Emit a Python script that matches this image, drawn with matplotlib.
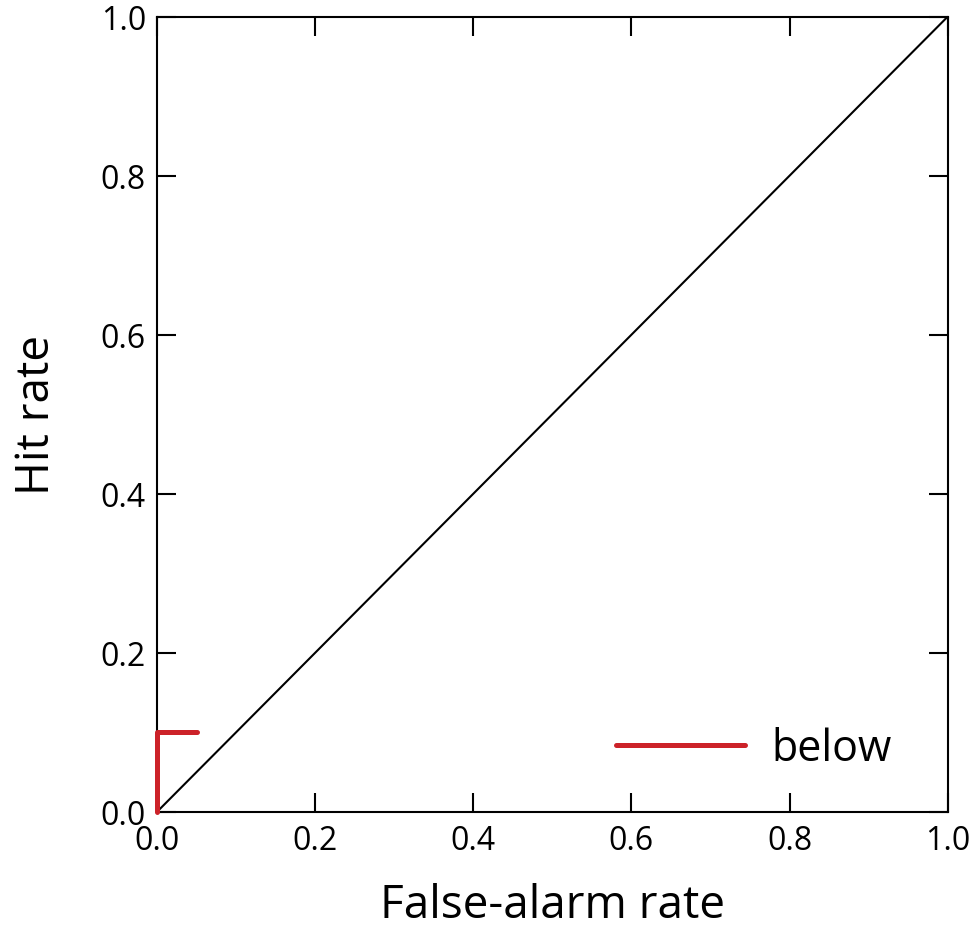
import matplotlib.pyplot as plt

# ROC points for the "below" criterion, plus the chance diagonal
fa_below = [0.0, 0.0, 0.05]
hit_below = [0.0, 0.1, 0.1]
chance = [0.0, 1.0]
ticks = [0.0, 0.2, 0.4, 0.6, 0.8, 1.0]

plt.rcParams['font.family'] = ['Open Sans', 'DejaVu Sans']

fig = plt.figure(figsize=(9.75, 9.29), dpi=100)
ax = fig.add_axes([0.161, 0.125, 0.811, 0.856])

ax.plot(chance, chance, color='black', lw=1.5)
ax.plot(fa_below, hit_below, color='#cc2229', lw=3.6, label='below',
        solid_capstyle='round', clip_on=False, zorder=5)

ax.set_xlim(0, 1)
ax.set_ylim(0, 1)
ax.set_xticks(ticks)
ax.set_yticks(ticks)
ax.set_xticklabels(['%.1f' % t for t in ticks])
ax.set_yticklabels(['%.1f' % t for t in ticks])
ax.tick_params(direction='in', length=14, width=1.5, labelsize=23,
               top=True, right=True)
ax.tick_params(axis='y', pad=8)
ax.tick_params(axis='x', pad=9)
for s in ax.spines.values():
    s.set_linewidth(1.5)

ax.set_xlabel('False-alarm rate', fontsize=33, labelpad=18)
ax.set_ylabel('Hit rate', fontsize=33, labelpad=29)

ax.legend(loc='lower right', frameon=False, fontsize=31, handlelength=3.0,
          handletextpad=0.6, bbox_to_anchor=(0.978, 0.003))

fig.savefig('out.png', dpi=100)
